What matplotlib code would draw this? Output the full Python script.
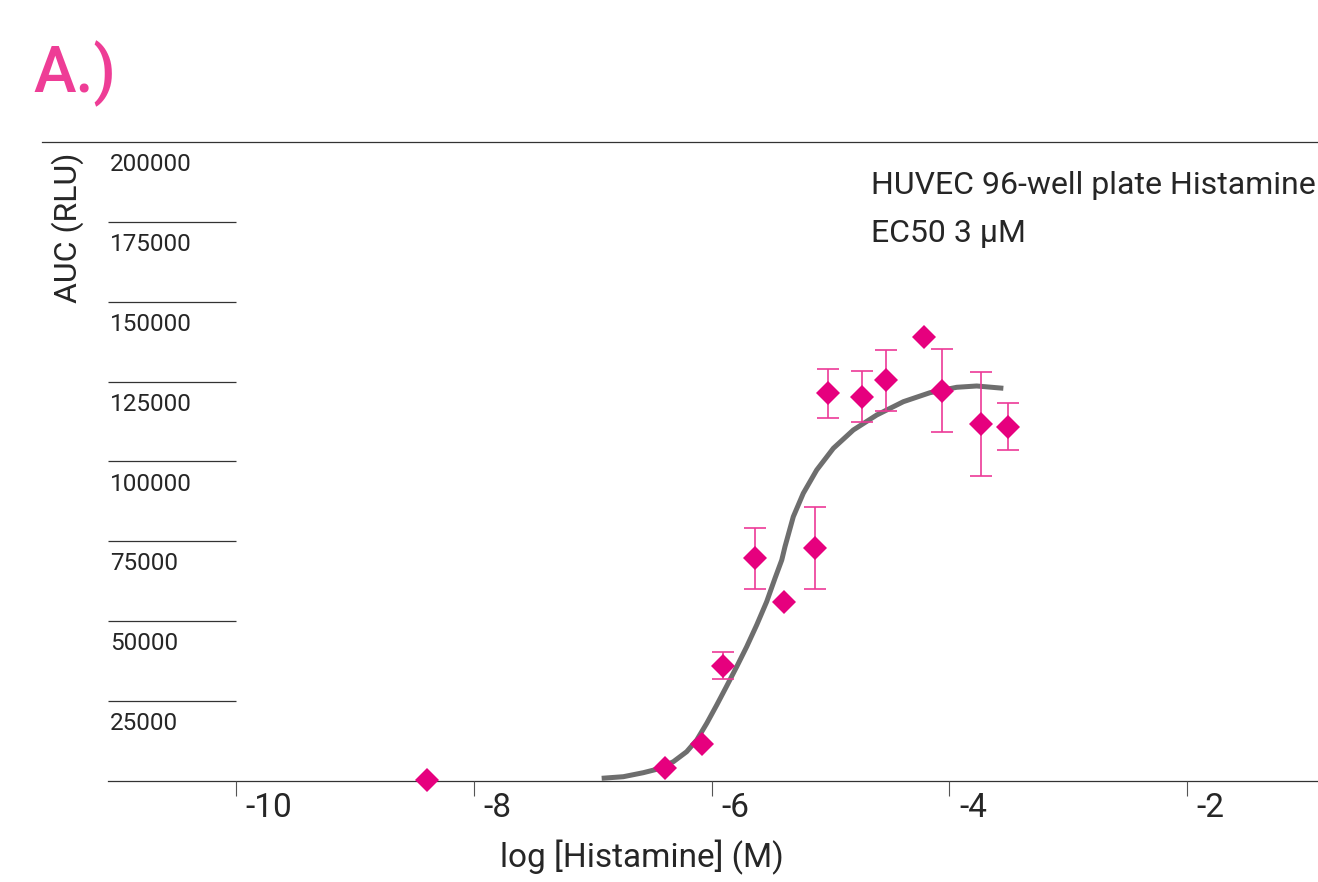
import numpy as np
import matplotlib
matplotlib.use("Agg")
import matplotlib.pyplot as plt
from matplotlib.lines import Line2D

plt.rcParams['font.family'] = ['Roboto', 'DejaVu Sans']

# ---- data ----
log_conc = [-8.39, -6.39, -6.08, -5.90, -5.63, -5.39, -5.13, -5.02, -4.73, -4.53, -4.21, -4.06, -3.73, -3.51]
auc = [300, 3970, 11600, 36100, 69700, 56000, 73000, 121300, 120300, 125500, 138900, 122100, 111700, 110900]
auc_err = [0, 0, 0, 4300, 9450, 0, 12900, 7770, 8080, 9550, 0, 13000, 16200, 7400]

fit_x = [-6.924, -6.742, -6.574, -6.461, -6.321, -6.209, -6.124, -6.040, -5.956, -5.872,
         -5.788, -5.704, -5.620, -5.536, -5.466, -5.409, -5.382, -5.312, -5.228, -5.115,
         -4.975, -4.807, -4.610, -4.386, -4.162, -3.937, -3.769, -3.545]
fit_y = [845, 1346, 2598, 3662, 6041, 9171, 12833, 18060, 23788, 29735,
         35776, 42036, 48828, 56121, 63445, 69173, 73336, 82726, 90050, 97343,
         104135, 109863, 114558, 118721, 121538, 123228, 123635, 122915]

ytick_values = [25000, 50000, 75000, 100000, 125000, 150000, 175000, 200000]
ytick_labels = ['25000', '50000', '75000', '100000', '125000', '150000', '175000', '200000']
xtick_values = [-10, -8, -6, -4, -2]
xtick_labels = ['-10', '-8', '-6', '-4', '-2']

W, H = 1318, 882
fig = plt.figure(figsize=(W / 100, H / 100), dpi=100)
ax = fig.add_axes([108 / W, 101 / H, 1210 / W, 639 / H])
xmin, xmax = -11.077, -0.898
ax.set_xlim(xmin, xmax)
ax.set_ylim(0, 200000)
ax.patch.set_alpha(0)

for s in ['left', 'right', 'top']:
    ax.spines[s].set_visible(False)
ax.spines['bottom'].set_color('#333333')
ax.spines['bottom'].set_linewidth(0.9)
ax.spines['bottom'].set_zorder(1)

ax.set_yticks([])
ax.set_xticks(xtick_values)
ax.set_xticklabels([])
ax.tick_params(axis='x', direction='out', length=11, width=0.8, color='#555555')

TXT = '#262626'
# y "gridline" segments and labels beneath them
ax.hlines(ytick_values[:-1], xmin, -10, colors='#333333', linewidth=0.9)
for v, lab in zip(ytick_values, ytick_labels):
    ax.annotate(lab, xy=(xmin, v), xytext=(1.5, -8), textcoords='offset points',
                ha='left', va='top', fontsize=17.5, color=TXT,
                annotation_clip=False)

for v, lab in zip(xtick_values, xtick_labels):
    ax.annotate(lab, xy=(v, 0), xytext=(7, -8), textcoords='offset points',
                ha='left', va='top', fontsize=24, color=TXT,
                annotation_clip=False)

# top rule
fig.add_artist(Line2D([42 / W, 1.0], [(H - 142) / H, (H - 142) / H],
                      color='#333333', linewidth=0.9))

# fitted curve
ax.plot(fit_x, fit_y, color='#6E6E6E', linewidth=3.6, solid_capstyle='butt',
        solid_joinstyle='round', zorder=2)

# error bars (only where present)
lx = np.array(log_conc); ay = np.array(auc); ae = np.array(auc_err)
m = ae > 0
ax.errorbar(lx[m], ay[m], yerr=ae[m], fmt='none', ecolor='#EC3A97',
            elinewidth=1.2, capsize=8, capthick=1.2, zorder=3)
ax.plot(lx, ay, linestyle='none', marker='D', markersize=12, color='#E6007E',
        markeredgewidth=0, zorder=4, clip_on=False)

# texts
fig.text(871 / W, (H - 185) / H, 'HUVEC 96-well plate Histamine', fontsize=23,
         color=TXT, va='center', ha='left')
fig.text(871 / W, (H - 233) / H, 'EC50 3 µM', fontsize=23,
         color=TXT, va='center', ha='left')
fig.text(642 / W, (H - 857) / H, 'log [Histamine] (M)', fontsize=24,
         color=TXT, va='center', ha='center')
fig.text(68 / W, (H - 228) / H, 'AUC (RLU)', fontsize=23, rotation=90,
         color=TXT, va='center', ha='center')
fig.text(33 / W, (H - 74) / H, 'A.)', fontsize=46, color='#EE3D96',
         va='center', ha='left', fontweight='medium')

fig.savefig('out.png', dpi=100)
